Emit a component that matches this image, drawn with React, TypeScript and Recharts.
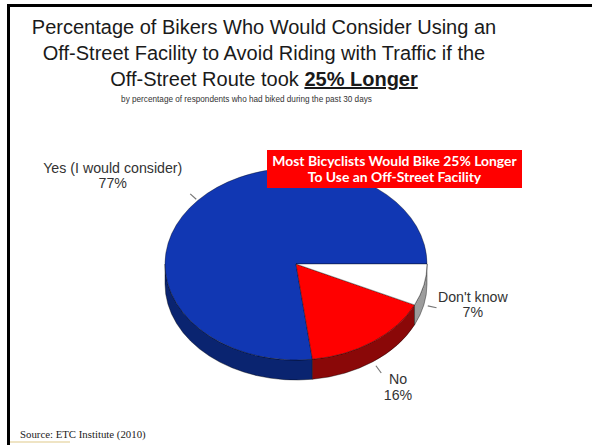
import React from 'react';
import { PieChart, Pie, Cell } from 'recharts';

const categories = ['Yes (I would consider)', 'No', "Don't know"];
const values = [77, 16, 7];
const topColors = ['#1137b3', '#ff0000', '#ffffff'];
const sideColors = ['#0a2470', '#8a0808', '#9c9c9c'];

const titleLines = [
  'Percentage of Bikers Who Would Consider Using an',
  'Off-Street Facility to Avoid Riding with Traffic if the',
];
const titleLine3 = 'Off-Street Route took ';
const titleEmph = '25% Longer';
const subtitle = 'by percentage of respondents who had biked during the past 30 days';
const calloutLines = ['Most Bicyclists Would Bike 25% Longer', 'To Use an Off-Street Facility'];
const sourceText = 'Source:  ETC Institute (2010)';

const data = categories.map((name, i) => ({ name, value: values[i] }));

const CX = 296;
const CY = 264;
const R = 131;
const SQUASH = 0.733;
const DEPTH = 20;

const labelOffsets = [
  { dx: -85, dy: -27.5, l0: 2, l1: 10 },
  { dx: 25, dy: 22.5, l0: 5, l1: 14 },
  { dx: 49, dy: -3, l0: 4, l1: 13 },
];

const rad = (d: number) => (d * Math.PI) / 180;
const pt = (cx: number, cy: number, rx: number, ry: number, a: number, dy = 0) => [
  cx + rx * Math.cos(rad(a)),
  cy - ry * Math.sin(rad(a)) + dy,
];

function EllipseSector(props: any) {
  const { cx, cy, outerRadius, startAngle, endAngle } = props;
  const name = props.name ?? props.payload?.name;
  const idx = Math.max(0, categories.indexOf(name));
  const rx = outerRadius;
  const ry = outerRadius * SQUASH;
  const a0 = Math.min(startAngle, endAngle);
  const a1 = Math.max(startAngle, endAngle);
  const [sx, sy] = pt(cx, cy, rx, ry, a0);
  const [ex, ey] = pt(cx, cy, rx, ry, a1);
  const large = a1 - a0 > 180 ? 1 : 0;
  const top = `M${cx},${cy} L${sx},${sy} A${rx},${ry} 0 ${large} 0 ${ex},${ey} Z`;
  const b0 = Math.max(a0, 180);
  const b1 = Math.min(a1, 360);
  let side: string | null = null;
  if (b1 > b0) {
    const [p0x, p0y] = pt(cx, cy, rx, ry, b0);
    const [p1x, p1y] = pt(cx, cy, rx, ry, b1);
    side = `M${p0x},${p0y} A${rx},${ry} 0 0 0 ${p1x},${p1y} L${p1x},${p1y + DEPTH} A${rx},${ry} 0 0 1 ${p0x},${p0y + DEPTH} Z`;
  }
  return (
    <g>
      {side && <path d={side} fill={sideColors[idx]} stroke="rgba(0,0,0,0.55)" strokeWidth={0.7} />}
      <path d={top} fill={topColors[idx]} stroke="rgba(0,0,0,0.5)" strokeWidth={0.7} />
    </g>
  );
}

function renderLabel(props: any) {
  const { cx, cy, outerRadius, midAngle, index, name, value } = props;
  const rx = outerRadius;
  const ry = outerRadius * SQUASH;
  const s = Math.sin(rad(midAngle));
  const c = Math.cos(rad(midAngle));
  const [px, py] = pt(cx, cy, rx, ry, midAngle, s < 0 ? DEPTH : 0);
  const o = labelOffsets[index] || { dx: 0, dy: 0, l0: 2, l1: 10 };
  return (
    <g key={`lbl-${index}`}>
      <line
        x1={px + c * o.l0}
        y1={py - s * o.l0}
        x2={px + c * o.l1}
        y2={py - s * o.l1}
        stroke="#777"
        strokeWidth={1.2}
      />
      <text
        x={px + o.dx}
        y={py + o.dy}
        textAnchor="middle"
        fontFamily="'Liberation Sans', Arial, sans-serif"
        fontSize={14.2}
        fill="#333"
      >
        <tspan x={px + o.dx}>{name}</tspan>
        <tspan x={px + o.dx} dy={15.5}>{`${value}%`}</tspan>
      </text>
    </g>
  );
}

export default function App() {
  return (
    <div
      style={{
        position: 'absolute',
        left: 0,
        top: 0,
        width: 592,
        height: 445,
        background: '#fff',
        overflow: 'hidden',
      }}
    >
      <div style={{ position: 'absolute', left: 0, top: 0 }}>
        <PieChart width={592} height={445} margin={{ top: 0, right: 0, bottom: 0, left: 0 }}>
          <Pie
            data={data}
            dataKey="value"
            nameKey="name"
            cx={CX}
            cy={CY}
            outerRadius={R}
            startAngle={0}
            endAngle={360}
            isAnimationActive={false}
            shape={EllipseSector}
            label={renderLabel}
            labelLine={false}
          >
            {data.map((d, i) => (
              <Cell key={d.name} fill={topColors[i]} />
            ))}
          </Pie>
        </PieChart>
      </div>
      <svg
        width={592}
        height={445}
        style={{ position: 'absolute', left: 0, top: 0, pointerEvents: 'none' }}
      >
        <rect x={7} y={4} width={585} height={3} fill="#000" />
        <rect x={7} y={4} width={3} height={441} fill="#000" />
        <rect x={10} y={441} width={60} height={2} fill="#efe4c4" />
        <g fontFamily="'Liberation Sans', Arial, sans-serif" fill="#1a1a1a" textAnchor="middle">
          <text x={264} y={34} fontSize={20}>{titleLines[0]}</text>
          <text x={264} y={60} fontSize={20}>{titleLines[1]}</text>
          <text x={264} y={86} fontSize={20}>
            {titleLine3}
            <tspan fontWeight="bold" textDecoration="underline">{titleEmph}</tspan>
          </text>
          <text x={246.5} y={102} fontSize={8.2} fill="#333">{subtitle}</text>
        </g>
        <rect x={267} y={150} width={255} height={38} fill="#ff0000" />
        <g fontFamily="Lato, 'Open Sans', sans-serif" fontWeight="bold" fill="#fff" textAnchor="middle" fontSize={13.9}>
          <text x={394.5} y={166}>{calloutLines[0]}</text>
          <text x={394.5} y={182}>{calloutLines[1]}</text>
        </g>
        <text x={20} y={438} fontFamily="'Liberation Serif', 'Times New Roman', serif" fontSize={10.8} fill="#222">
          {sourceText}
        </text>
      </svg>
    </div>
  );
}
